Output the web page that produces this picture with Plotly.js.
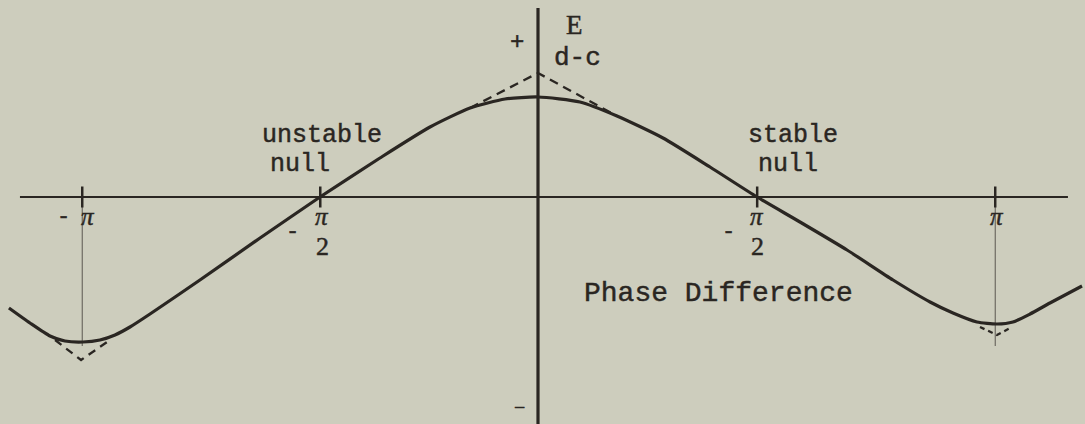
<!DOCTYPE html>
<html>
<head>
<meta charset="utf-8">
<script src="https://cdn.plot.ly/plotly-3.0.1.min.js"></script>
<style>
  html, body { margin: 0; padding: 0; background: #cdcdbd; }
  #chart { width: 1085px; height: 424px; }
  .annotation-text { stroke: #2a2622; stroke-width: 0.45px; }
</style>
</head>
<body>
<div id="chart"></div>
<script>
// ---- Data (phase difference in radians, E in arbitrary units; peak = 1) ----
const solidX = [-3.645, -3.500, -3.362, -3.259, -3.135, -3.018, -2.914, -2.811, -2.673, -2.329, -1.915, -1.502,
                -1.089, -0.744, -0.468, -0.227, 0.000, 0.289, 0.544, 0.861, 1.185, 1.509,
                1.805, 2.129, 2.446, 2.701, 2.859, 3.024, 3.162, 3.272, 3.390, 3.527, 3.748];
const solidY = [-1.11, -1.26, -1.39, -1.44, -1.45, -1.43, -1.38, -1.30, -1.17, -0.83, -0.41, 0.00,
                0.39, 0.70, 0.89, 0.98, 1.00, 0.95, 0.81, 0.59, 0.30, 0.00,
                -0.25, -0.53, -0.83, -1.05, -1.16, -1.25, -1.27, -1.25, -1.17, -1.06, -0.89];

const dashTopX = [-0.468, 0.000, 0.544];
const dashTopY = [0.89, 1.24, 0.81];
const dashLeftX = [-3.327, -3.148, -2.949];
const dashLeftY = [-1.43, -1.63, -1.43];
const dashRightX = [3.045, 3.162, 3.266];
const dashRightY = [-1.30, -1.38, -1.30];

const tickVals = [-3.14, -1.50, 1.51, 3.15];      // -π, -π/2, π/2, π
const dropX = [-3.14, 3.15];                       // thin guide lines at ±π
const dropBottom = -1.49;

const xAxisExtent = [-3.569, 3.651];
const yAxisExtent = [1.89, -2.27];
const xRange = [-3.7065, 3.7685];
const yRange = [-2.27, 1.97];

// ---- Styling ----
const ink = '#2a2622';
const W = 1085, H = 424;
const px = (x, y) => ({ x: x / W, y: 1 - y / H });
const mono = 'Liberation Mono, Courier New, monospace';
const serif = 'Liberation Serif, DejaVu Serif, serif';

const traces = [
  // axes
  { x: xAxisExtent, y: [0, 0], mode: 'lines', line: { color: ink, width: 2 }, hoverinfo: 'skip' },
  { x: [0, 0], y: yAxisExtent, mode: 'lines', line: { color: ink, width: 3.2 }, hoverinfo: 'skip' },
  // thin guides at ±π
  { x: [dropX[0], dropX[0]], y: [0, dropBottom], mode: 'lines', line: { color: '#5a5650', width: 1 }, hoverinfo: 'skip' },
  { x: [dropX[1], dropX[1]], y: [0, dropBottom], mode: 'lines', line: { color: '#5a5650', width: 1 }, hoverinfo: 'skip' },
  // tick marks
  { x: tickVals, y: tickVals.map(() => 0), mode: 'markers',
    marker: { symbol: 'line-ns', size: 15, line: { color: ink, width: 2.5 } }, hoverinfo: 'skip' },
  // dashed ideal characteristic
  { x: dashTopX, y: dashTopY, mode: 'lines', line: { color: ink, width: 2.3, dash: '9px,6px' }, hoverinfo: 'skip' },
  { x: dashLeftX, y: dashLeftY, mode: 'lines', line: { color: ink, width: 2.3, dash: '8px,6px' }, hoverinfo: 'skip' },
  { x: dashRightX, y: dashRightY, mode: 'lines', line: { color: ink, width: 2.3, dash: '5px,4px' }, hoverinfo: 'skip' },
  // actual characteristic
  { x: solidX, y: solidY, mode: 'lines', line: { color: ink, width: 3.2, shape: 'spline', smoothing: 0.6 }, hoverinfo: 'skip' }
];

function ann(text, cx, cy, size, family) {
  const p = px(cx, cy);
  return {
    text: text, x: p.x, y: p.y, xref: 'paper', yref: 'paper',
    xanchor: 'center', yanchor: 'middle', showarrow: false,
    font: { family: family, size: size, color: ink }
  };
}

const annotations = [
  ann('unstable', 322, 135, 25, mono),
  ann('null', 300, 165, 25, mono),
  ann('stable', 793, 135, 25, mono),
  ann('null', 788, 165, 25, mono),
  ann('E', 574, 25, 27, serif),
  ann('+', 517, 43, 24, mono),
  ann('d-c', 577, 58, 26, mono),
  ann('\u2212', 519, 407, 20, serif),
  ann('Phase Difference', 718, 293, 28, mono),
  // tick labels
  ann('-', 63, 217, 22, mono),
  ann('<i>\u03c0</i>', 88, 216, 25, serif),
  ann('<i>\u03c0</i>', 322, 216, 25, serif),
  ann('-', 292, 232, 22, mono),
  ann('2', 322, 246, 26, serif),
  ann('<i>\u03c0</i>', 757, 216, 25, serif),
  ann('-', 728, 232, 22, mono),
  ann('2', 757, 246, 26, serif),
  ann('<i>\u03c0</i>', 997, 216, 25, serif)
];

const layout = {
  width: W, height: H,
  margin: { l: 0, r: 0, t: 0, b: 0, pad: 0 },
  paper_bgcolor: '#cdcdbd', plot_bgcolor: '#cdcdbd',
  showlegend: false,
  xaxis: { range: xRange, visible: false, fixedrange: true },
  yaxis: { range: yRange, visible: false, fixedrange: true },
  annotations: annotations
};

Plotly.newPlot('chart', traces, layout, { staticPlot: true, displayModeBar: false });
</script>
</body>
</html>
